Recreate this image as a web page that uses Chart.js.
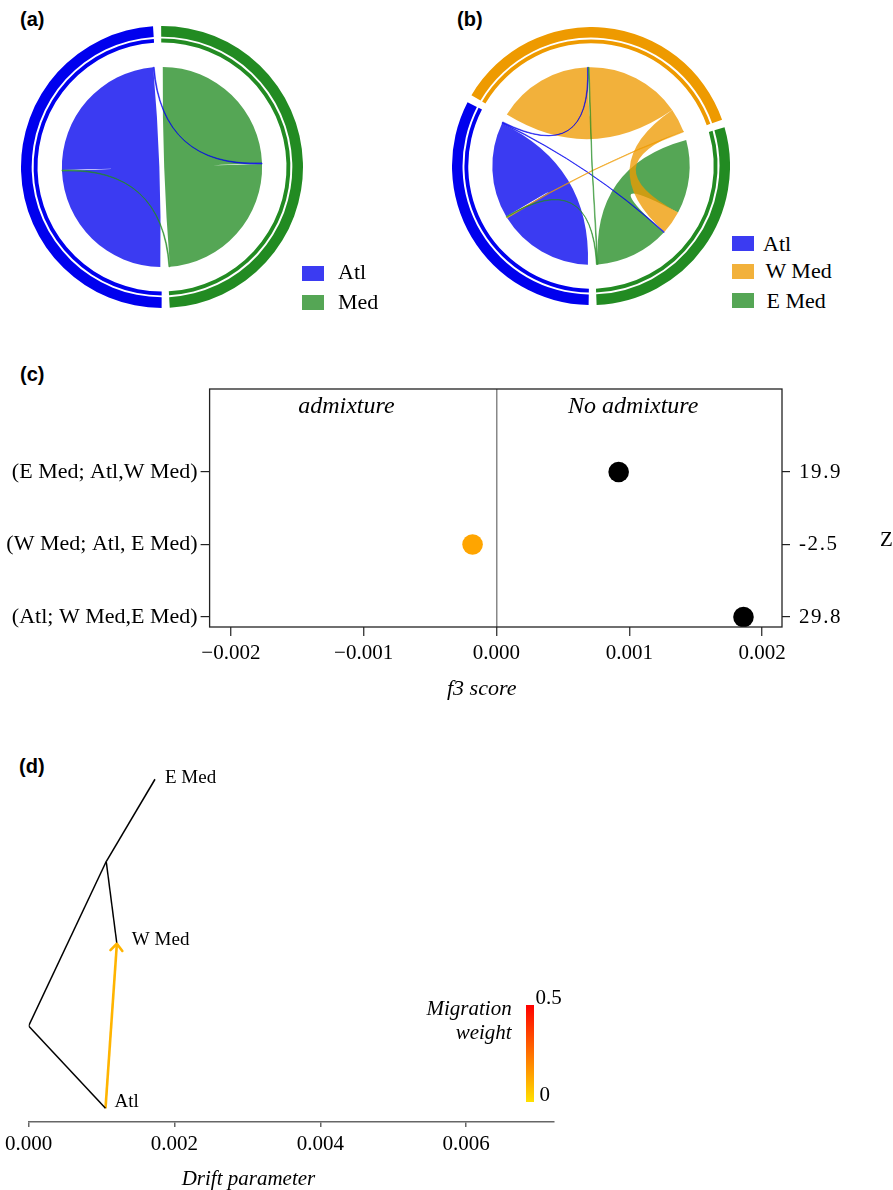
<!DOCTYPE html>
<html>
<head>
<meta charset="utf-8">
<title>Gene flow panels</title>
<script src="https://cdn.jsdelivr.net/npm/chart.js@4.4.1/dist/chart.umd.min.js"></script>
<style>
  body { margin: 0; background: #fff; }
  #fig { position: relative; width: 893px; height: 1190px; overflow: hidden;
         font-family: "Liberation Serif", "Times New Roman", serif; color: #000; }
  #fig canvas { position: absolute; }
  .t { position: absolute; white-space: nowrap; line-height: 1; }
  .lab { font-family: "Liberation Sans", Arial, sans-serif; font-weight: bold; font-size: 20px; }
  .key { position: absolute; width: 22px; height: 15px; }
  .i { font-style: italic; }
</style>
</head>
<body>
<div id="fig">
  <!-- (a) -->
  <div class="t lab" style="left:20px;top:9px">(a)</div>
  <canvas id="chordA" width="282" height="282" style="left:21px;top:26px"></canvas>
  <div class="key" data-pop="Atl" style="left:302px;top:266px"></div>
  <div class="t" style="left:338px;top:260.6px;font-size:22px">Atl</div>
  <div class="key" data-pop="Med" style="left:302px;top:295px"></div>
  <div class="t" style="left:338px;top:290.6px;font-size:22px">Med</div>

  <!-- (b) -->
  <div class="t lab" style="left:457px;top:9px">(b)</div>
  <canvas id="chordB" width="278" height="278" style="left:452px;top:27px"></canvas>
  <div class="key" data-pop="Atl" style="left:732px;top:236px"></div>
  <div class="t" style="left:763px;top:233.3px;font-size:22px">Atl</div>
  <div class="key" data-pop="W Med" style="left:732px;top:264.3px"></div>
  <div class="t" style="left:765.5px;top:259.9px;font-size:22px">W Med</div>
  <div class="key" data-pop="E Med" style="left:732px;top:293.3px"></div>
  <div class="t" style="left:766.5px;top:289.9px;font-size:22px">E Med</div>

  <!-- (c) -->
  <div class="t lab" style="left:20px;top:364px">(c)</div>
  <canvas id="f3" width="893" height="350" style="left:0;top:360px"></canvas>
  <div class="t" style="left:880px;top:529.4px;font-size:21px">Z</div>
  <div class="t i" style="left:447px;top:676.6px;font-size:22px">f3 score</div>

  <!-- (d) -->
  <div class="t lab" style="left:19px;top:756px">(d)</div>
  <canvas id="tree" width="600" height="440" style="left:0;top:750px"></canvas>
  <div class="t i" style="left:181.7px;top:1167.9px;font-size:21px">Drift parameter</div>
  <div class="t i" style="right:381.3px;top:998.4px;font-size:21px;text-align:right">Migration</div>
  <div class="t i" style="right:381.3px;top:1022.4px;font-size:21px;text-align:right">weight</div>
  <div id="migBar" style="position:absolute;left:526px;top:1005px;width:7.5px;height:97px"></div>
  <div class="t" style="left:535.4px;top:987.4px;font-size:21px">0.5</div>
  <div class="t" style="left:539.5px;top:1084.1px;font-size:21px">0</div>
</div>

<script>
// ---------- (a) chord diagram, two populations ----------
const popsA = ['Atl', 'Med'];
const linkFromA = ['Atl', 'Med', 'Atl', 'Med'];
const linkToA   = ['Atl', 'Med', 'Med', 'Atl'];
const linkValA  = [87, 87.5, 0.6, 0.6];
// clockwise order of link ends inside each sector (indices into the link arrays)
const endOrderA = { 'Med': [1, 2, 1, 3], 'Atl': [0, 3, 0, 2] };
const ringOrderA = ['Med', 'Atl'];

// ---------- (b) chord diagram, three populations ----------
const popsB = ['Atl', 'W Med', 'E Med'];
const linkFromB = ['Atl', 'W Med', 'E Med', 'W Med', 'Atl', 'Atl', 'W Med', 'E Med', 'E Med'];
const linkToB   = ['Atl', 'W Med', 'E Med', 'E Med', 'W Med', 'E Med', 'Atl', 'Atl', 'W Med'];
const linkValB  = [57, 57, 44, 14, 0.5, 0.5, 0.5, 0.5, 0.5];
const endOrderB = { 'W Med': [1, 4, 8, 1, 3, 6], 'E Med': [2, 3, 5, 2, 8, 7], 'Atl': [0, 6, 7, 0, 5, 4] };
const ringOrderB = ['W Med', 'E Med', 'Atl'];

// ---------- (c) f3 tests ----------
const f3Tests  = ['(Atl; W Med,E Med)', '(W Med; Atl, E Med)', '(E Med; Atl,W Med)'];
const f3Scores = [0.00186, -0.00018, 0.00092];
const f3Z      = [29.8, -2.5, 19.9];
const f3Ticks  = [-0.002, -0.001, 0, 0.001, 0.002];
const regionLabels = ['admixture', 'No admixture'];
const regionLabelX = [-0.00113, 0.00103];
const regionLabelY = 3.81;

// ---------- (d) TreeMix graph ----------
const treeNodes  = ['root', 'Atl', 'node1', 'W Med', 'E Med'];
const treeParent = [null, 'root', 'root', 'node1', 'node1'];
const treeDrift  = [0, 0.001054, 0.001064, 0.00121, 0.001733];
const treeY      = [1.5, 1, 2.5, 2, 3];
const migFrom = 'Atl', migTo = 'W Med', migWeight = 0.1;
const driftTicks = [0, 0.002, 0.004, 0.006];

// colours
const popColors = { 'Atl': '#0000EE', 'Med': '#228B22', 'W Med': '#EE9A00', 'E Med': '#228B22' };
const RIBBON_ALPHA = 0.77;
const GAP_DEG = 3.3;

Chart.defaults.font.family = '"Liberation Serif", "Times New Roman", serif';
Chart.defaults.color = '#000';

function rgba(hex, a) {
  const n = parseInt(hex.slice(1), 16);
  return `rgba(${n >> 16},${(n >> 8) & 255},${n & 255},${a})`;
}

document.querySelectorAll('[data-pop]').forEach(el => {
  el.style.background = rgba(popColors[el.dataset.pop], RIBBON_ALPHA);
});

// ribbon between two arcs of the inner circle, bent through the centre
function ribbonPath(ctx, cx, cy, r, s, t) {
  ctx.beginPath();
  ctx.arc(cx, cy, r, s[0], s[1]);
  ctx.quadraticCurveTo(cx, cy, cx + r * Math.cos(t[0]), cy + r * Math.sin(t[0]));
  ctx.arc(cx, cy, r, t[0], t[1]);
  ctx.quadraticCurveTo(cx, cy, cx + r * Math.cos(s[0]), cy + r * Math.sin(s[0]));
  ctx.closePath();
}

function chordPlugin(spec) {
  return {
    id: 'chord',
    beforeDatasetsDraw(chart) {
      const meta = chart.getDatasetMeta(0);
      const ctx = chart.ctx;
      const inset = 0.8 * Math.PI / 180;
      const ends = spec.value.map(() => ({}));
      let cx, cy, r;
      spec.ring.forEach((p, i) => {
        const el = meta.data[2 * i];
        cx = el.x; cy = el.y; r = el.outerRadius * 0.71;
        const size = chart.data.datasets[0].data[2 * i];
        const unit = (el.endAngle - el.startAngle - 2 * inset) / size;
        let a = el.startAngle + inset;
        spec.order[p].forEach(k => {
          const span = [a, a + spec.value[k] * unit];
          a = span[1];
          if (spec.from[k] === p && !ends[k].src) ends[k].src = span;
          else ends[k].dst = span;
        });
      });
      ctx.save();
      spec.value.forEach((v, k) => {
        const col = rgba(popColors[spec.from[k]], RIBBON_ALPHA);
        ribbonPath(ctx, cx, cy, r, ends[k].src, ends[k].dst);
        ctx.fillStyle = col;
        ctx.fill();
        if (v < 2) {           // hairline links
          ctx.strokeStyle = col;
          ctx.lineWidth = 0.7;
          ctx.stroke();
        }
      });
      ctx.restore();
    }
  };
}

function drawChord(id, spec, rotation) {
  const sizes = spec.ring.map(p => spec.order[p].reduce((s, k) => s + spec.value[k], 0));
  const total = sizes.reduce((a, b) => a + b, 0);
  const gap = total * GAP_DEG / (360 - GAP_DEG * sizes.length);
  const values = [], colors = [], labels = [];
  spec.ring.forEach((p, i) => {
    values.push(sizes[i], gap);
    colors.push(popColors[p], 'rgba(0,0,0,0)');
    labels.push(p, '');
  });
  new Chart(document.getElementById(id), {
    type: 'doughnut',
    data: {
      labels,
      datasets: [
        { data: values, backgroundColor: colors, weight: 11 },
        { data: values, backgroundColor: 'rgba(0,0,0,0)', weight: 2 },
        { data: values, backgroundColor: colors, weight: 4 }
      ]
    },
    options: {
      responsive: false, animation: false, events: [],
      rotation, cutout: '88.3%',
      elements: { arc: { borderWidth: 0 } },
      plugins: { legend: { display: false }, tooltip: { enabled: false } }
    },
    plugins: [chordPlugin(spec)]
  });
}

drawChord('chordA', { from: linkFromA, to: linkToA, value: linkValA, order: endOrderA, ring: ringOrderA }, -0.35);
drawChord('chordB', { from: linkFromB, to: linkToB, value: linkValB, order: endOrderB, ring: ringOrderB }, -59.35);

// ---------- (c) ----------
const fmtF3 = v => (v < 0 ? '\u2212' : '') + Math.abs(v).toFixed(3);
const yRange = { min: 0.862, max: 4.145 };
const catTicks = s => { s.ticks = f3Tests.map((t, i) => ({ value: i + 1 })); };

const f3Decor = {
  id: 'f3Decor',
  afterDraw(chart) {
    const { ctx, chartArea: a, scales: { x, y, y2 } } = chart;
    ctx.save();
    ctx.strokeStyle = '#222';
    ctx.lineWidth = 1.3;
    ctx.strokeRect(a.left, a.top, a.right - a.left, a.bottom - a.top);
    ctx.fillStyle = '#000';
    ctx.font = 'italic 24px "Liberation Serif"';
    ctx.textAlign = 'center';
    regionLabels.forEach((t, i) => {
      ctx.fillText(t, x.getPixelForValue(regionLabelX[i]), y.getPixelForValue(regionLabelY));
    });
    // Z values on the right axis, letter-spaced as in the original
    ctx.font = '21px "Liberation Serif"';
    ctx.textAlign = 'left';
    ctx.textBaseline = 'middle';
    ctx.letterSpacing = '1.6px';
    f3Z.forEach((z, i) => ctx.fillText(String(z), a.right + 17, y2.getPixelForValue(i + 1)));
    ctx.restore();
  }
};

new Chart(document.getElementById('f3'), {
  type: 'scatter',
  data: {
    datasets: [{
      data: f3Scores.map((v, i) => ({ x: v, y: i + 1 })),
      backgroundColor: f3Z.map(z => z < 0 ? '#FFA500' : '#000000'),
      pointRadius: 10.3, borderWidth: 0
    }]
  },
  options: {
    responsive: false, animation: false, events: [],
    layout: { autoPadding: false, padding: { top: 29, left: 0, right: 0, bottom: 0 } },
    plugins: { legend: { display: false }, tooltip: { enabled: false } },
    scales: {
      x: {
        type: 'linear', min: -0.00216, max: 0.00215,
        afterBuildTicks: s => { s.ticks = f3Ticks.map(v => ({ value: v })); },
        ticks: { callback: v => fmtF3(v), font: { size: 21 }, padding: 5, maxRotation: 0, autoSkip: false },
        grid: {
          color: c => (c.tick && c.tick.value === 0) ? '#888' : 'rgba(0,0,0,0)',
          lineWidth: 1.5, tickColor: '#222', tickWidth: 1.2, tickLength: 9
        },
        border: { display: false },
        afterFit: s => { s.height = 83; }
      },
      y: {
        type: 'linear', ...yRange,
        afterBuildTicks: catTicks,
        ticks: { callback: v => f3Tests[v - 1], font: { size: 22 }, padding: 3, autoSkip: false },
        grid: { drawOnChartArea: false, tickLength: 9, color: '#222', lineWidth: 1.2 },
        border: { display: false },
        afterFit: s => { s.width = 209.6; }
      },
      y2: {
        type: 'linear', axis: 'y', position: 'right', ...yRange,
        afterBuildTicks: catTicks,
        ticks: { callback: () => '', autoSkip: false },
        grid: { drawOnChartArea: false, tickLength: 8, color: '#222', lineWidth: 1.2 },
        border: { display: false },
        afterFit: s => { s.width = 111; }
      }
    }
  },
  plugins: [f3Decor]
});

// ---------- (d) ----------
const nodePt = n => { const i = treeNodes.indexOf(n); return { x: treeDrift[i], y: treeY[i] }; };
const migColor = `rgb(255,${Math.round(225 * (1 - migWeight / 0.5))},0)`;
document.getElementById('migBar').style.background = 'linear-gradient(to top, rgb(255,225,0), rgb(255,0,0))';

const edgeSets = [];
treeNodes.forEach((n, i) => {
  if (!treeParent[i]) return;
  edgeSets.push({ data: [nodePt(treeParent[i]), nodePt(n)], showLine: true,
                  borderColor: '#000', borderWidth: 1.5, pointRadius: 0 });
});
edgeSets.push({ data: [nodePt(migFrom), nodePt(migTo)], showLine: true,
                borderColor: migColor, borderWidth: 2.6, pointRadius: 0 });

const tipOffset = { 'Atl': [9, -6.6], 'W Med': [15, -3.3], 'E Med': [10, -1.3] };

const treeDecor = {
  id: 'treeDecor',
  afterDatasetsDraw(chart) {
    const { ctx, scales: { x, y } } = chart;
    const m = chart.getDatasetMeta(chart.data.datasets.length - 1).data;
    const p0 = m[0], p1 = m[1];
    const ang = Math.atan2(p1.y - p0.y, p1.x - p0.x);
    ctx.save();
    ctx.strokeStyle = migColor;
    ctx.lineWidth = 2.6;
    ctx.lineCap = 'round';
    ctx.lineJoin = 'round';
    ctx.beginPath();
    ctx.moveTo(p1.x + 9 * Math.cos(ang + Math.PI - 0.72), p1.y + 9 * Math.sin(ang + Math.PI - 0.72));
    ctx.lineTo(p1.x, p1.y);
    ctx.lineTo(p1.x + 9 * Math.cos(ang + Math.PI + 0.72), p1.y + 9 * Math.sin(ang + Math.PI + 0.72));
    ctx.stroke();

    ctx.fillStyle = '#000';
    ctx.font = '19px "Liberation Serif"';
    ctx.textBaseline = 'middle';
    treeNodes.forEach((n, i) => {
      if (treeParent.includes(n)) return;          // internal node
      const off = tipOffset[n] || [10, 0];
      ctx.fillText(n, x.getPixelForValue(treeDrift[i]) + off[0], y.getPixelForValue(treeY[i]) + off[1]);
    });
    ctx.restore();
  }
};

new Chart(document.getElementById('tree'), {
  type: 'scatter',
  data: { datasets: edgeSets },
  options: {
    responsive: false, animation: false, events: [],
    layout: { autoPadding: false, padding: { left: 26, right: 46.3, top: 10, bottom: 0 } },
    plugins: { legend: { display: false }, tooltip: { enabled: false } },
    scales: {
      x: {
        type: 'linear', min: 0, max: 0.0072,
        afterBuildTicks: s => { s.ticks = driftTicks.map(v => ({ value: v })); },
        ticks: { callback: v => v.toFixed(3), font: { size: 21 }, padding: 5, maxRotation: 0, autoSkip: false },
        grid: { drawOnChartArea: false, tickLength: 5, color: '#666', lineWidth: 1.5 },
        border: { color: '#666', width: 1.5 },
        afterFit: s => { s.height = 68; }
      },
      y: { type: 'linear', display: false, min: 0.9167, max: 3.117 }
    }
  },
  plugins: [treeDecor]
});
</script>
</body>
</html>
